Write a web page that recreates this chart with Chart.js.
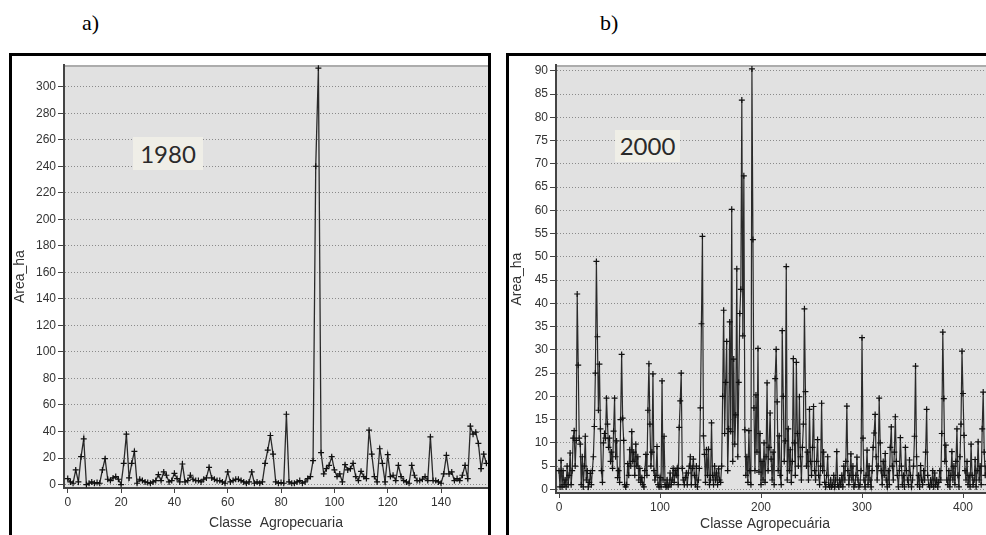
<!DOCTYPE html>
<html><head><meta charset="utf-8">
<script src="https://cdn.jsdelivr.net/npm/chart.js@4/dist/chart.umd.min.js"></script>
<style>
html,body{margin:0;padding:0;background:#fff;}
body{width:986px;height:535px;overflow:hidden;position:relative;}
.panel{position:absolute;border:3px solid #000;overflow:hidden;background:#fff;}
#pa{left:9px;top:53px;width:476px;height:490px;}
#pb{left:506px;top:53px;width:530px;height:490px;}
canvas{position:absolute;left:0;top:0;}
.lbl{position:absolute;font-family:"Liberation Serif",serif;font-size:22px;color:#000;line-height:26px;}
.year{position:absolute;background:#efeee7;font-family:Lato,sans-serif;font-size:24px;color:#2a2a2a;text-align:center;}
</style></head>
<body>
<div class="lbl" style="left:82px;top:10px">a)</div>
<div class="lbl" style="left:600px;top:10px">b)</div>
<div class="panel" id="pa"><canvas id="ca" width="476" height="479"></canvas></div>
<div class="panel" id="pb"><canvas id="cb" width="515" height="479"></canvas></div>
<div class="year" style="left:133px;top:137px;width:70px;height:33px;line-height:33px">1980</div>
<div class="year" style="left:615px;top:130px;width:65px;height:32px;line-height:32px">2000</div>
<script>
// ---------- data: panel a (1980) ----------
const areaA1980 = [
 4.5,2,1,11,2,21,34.5,0,1,2,
 1,1.5,1,11,19.5,4,3,5,6,4,
 0,16,38,5,16,25,1,4,3,2,
 1.5,1,2,3,7.5,3,9.5,7,2,3,
 8.5,4.5,2,15.5,2,3,7,4,3,3,
 2,4,5,13,5,4,3,3,2,1,
 9.5,2,3,4,4,3,2,1,2,9.5,
 1,2,1,2,16,26,37,23,2,1,
 1.5,1,53,2,1,1,2,3,1,2,
 4.5,6,18,240,314,24,8,12,14.5,21,
 11,6,8,2,15,11,12,16,6,3,
 10,6,4.5,41,23,6,2,27,16,2,
 22.5,6,7,3,14.5,6,3,2,1,14.5,
 7,3,3,4,6,3,36,3,3,2,
 1,8,22,8,9.5,3,4.5,3,7,14.5,
 4.5,44,38,39.5,31,12,23,16
];
// ---------- data: panel b (2000) ----------
const areaB2000 = [
 4,0.5,6.2,0.5,4,1,2,0.5,5,1,
 3,7.8,1,4,11,12.6,5,10.5,42,26.7,
 11,9.7,1,7,0.5,5,11.4,2,4,0.5,
 1.5,3.4,1,4,7,13.5,25,49,32.8,17,
 26.9,13,4,1.5,10,12,11,19.6,14,9,
 11,6,8,4.5,12.5,19.6,7,10.4,2.5,4,
 1.5,15,29,15.3,10.5,1,0.5,1,5.5,3,
 8.5,5,12.4,6,8,3,9.7,5,7,2,
 4.5,1.5,2.5,1,0.5,4,7.5,3,17,27,
 14,5,8,24.8,4,2,3,9.2,1,0.5,
 2.5,0.5,23.3,2,11.4,1,0.5,2,0.5,1,
 3.5,1,2,4.5,1.5,4,3,4.5,1,13.3,
 19,25,4.5,2,1,2.5,3.5,1,3.5,5,
 7,1,4.5,6.5,3,1,5,0.5,2,4.5,
 17.5,35.6,54.4,11.5,7.5,1.5,8.5,3,8.6,1,
 2,14.3,3,1,5,2,3.5,1,4.4,2,
 1.5,5,20,38.5,12,23,31.8,4,13,36,
 12.4,60.2,6,28,9.7,16,47.4,7,23,37.8,
 43,83.7,33,67.4,12.8,3,7,1.5,12.6,4,
 1,90.4,53.7,17.5,4,20.3,8,30.3,3.7,12,
 1,6,2,10,1.5,7,22.9,4,9,16.4,
 6.5,2,8,1,23.8,30.1,18.8,4,11.5,3,
 1,34.1,20,6,10.4,47.9,2,13,4,8.5,
 1.5,6,28.1,10,3,27.3,12,5,19.9,7,
 2,9,14,38.8,21,5,8,2,17.2,6,
 3,9,17.8,4,2,6,10.7,3,1,5,
 18.5,4,8,1.5,0.5,3,7,1,0.5,2,
 0.5,1,3,0.5,2,8.1,1,0.5,2,1,
 3,0.5,5,2,6,17.9,4,1,3,7.6,
 2,5,0.5,1,3,6.9,2,0.5,1,4,
 32.6,11,2,0.5,3,8.4,1,5,2,0.5,
 4,9,12.1,16.1,7,2,5,19.6,10,4,
 1,6,3,7.7,2,0.5,4,1,9,13.4,
 5,2,8,15.6,6,3,0.5,4,11.1,5,
 1,3,0.5,9,4,2,1,6.3,3,0.5,
 2,5,11.4,26.5,7,1,3,0.5,5.1,2,
 1,4,2,8,17.2,3,1,0.5,2,1,
 4,0.5,3.5,1,2,0.5,1.5,4,2,12,
 33.8,19.5,6,9.5,2,1,4,0.5,3,8.1,
 2,5,1,6,13,3,0.5,7,14,29.7,
 20.6,11.6,4,2,6,1,3,0.5,9.7,3,
 1,2,6.4,0.5,4,10.2,2,5,1,13,
 20.9,8,3,5,1,6
];
// class ids (categories) are the positions 0..n-1
const classA = areaA1980.map((_, i) => i);
const classB = areaB2000.map((_, i) => i);
// tick labels
const yTicksA = [0,20,40,60,80,100,120,140,160,180,200,220,240,260,280,300];
const xTicksA = [0,20,40,60,80,100,120,140];
const yTicksB = [0,5,10,15,20,25,30,35,40,45,50,55,60,65,70,75,80,85,90];
const xTicksB = [0,100,200,300,400];

const plotBg = {
  id: 'plotBg',
  beforeDraw(chart, args, o) {
    const {ctx, chartArea: a} = chart;
    ctx.save();
    ctx.fillStyle = o.color;
    ctx.fillRect(a.left, a.top, a.right - a.left, a.bottom - a.top);
    ctx.strokeStyle = o.topColor;
    ctx.lineWidth = 1.5;
    ctx.beginPath();
    ctx.moveTo(a.left, a.top + 0.75);
    ctx.lineTo(a.right, a.top + 0.75);
    ctx.stroke();
    ctx.restore();
  }
};
const freeText = {
  id: 'freeText',
  afterDraw(chart, args, o) {
    if (!o.items) return;
    const ctx = chart.ctx;
    ctx.save();
    for (const it of o.items) {
      ctx.font = it.font;
      ctx.fillStyle = it.color;
      ctx.textAlign = 'center';
      ctx.textBaseline = 'middle';
      ctx.fillText(it.text, it.x, it.y);
    }
    ctx.restore();
  }
};

const tickFont = {family: "'Liberation Sans', Arial, sans-serif", size: 12};
const titleFont = {family: "'Liberation Sans', Arial, sans-serif", size: 14};

function makeChart(id, cls, vals, cfg) {
  return new Chart(document.getElementById(id), {
    type: 'line',
    data: {
      datasets: [{
        data: vals.map((v, i) => ({x: cls[i], y: v})),
        borderColor: '#2a2a2a',
        borderWidth: cfg.lineWidth,
        pointStyle: 'cross',
        pointRadius: 3,
        pointBorderColor: '#111',
        pointBorderWidth: 1.2,
        pointBackgroundColor: '#111',
        tension: 0,
        fill: false
      }]
    },
    options: {
      responsive: false,
      animation: false,
      events: [],
      layout: {autoPadding: false, padding: {top: cfg.padTop, left: 0, right: 0, bottom: 0}},
      plugins: {
        legend: {display: false},
        tooltip: {enabled: false},
        plotBg: {color: '#e1e1e1', topColor: '#9a9a9a'},
        freeText: {items: cfg.freeItems || []}
      },
      scales: {
        x: {
          type: 'linear',
          min: cfg.xmin, max: cfg.xmax,
          afterBuildTicks: s => { s.ticks = cfg.xTicks.map(v => ({value: v})); },
          afterFit: s => { s.height = cfg.xH; },
          grid: {display: true, drawOnChartArea: false, drawTicks: true, tickLength: 5, tickColor: '#444', tickWidth: 1},
          border: {display: true, color: '#444', width: 2},
          ticks: {font: tickFont, color: '#333', padding: 2, maxRotation: 0, autoSkip: false},
          title: cfg.xTitle
            ? {display: true, text: cfg.xTitle, font: titleFont, color: '#333', padding: {top: 0, bottom: 3}}
            : {display: false}
        },
        y: {
          min: cfg.ymin, max: cfg.ymax,
          afterBuildTicks: s => { s.ticks = cfg.yTicks.map(v => ({value: v})); },
          afterFit: s => { s.width = cfg.yW; },
          grid: {color: '#8a8a8a', lineWidth: 1, tickLength: 6, tickColor: '#444', tickWidth: 1, tickBorderDash: []},
          border: {display: true, color: '#444', width: 2, dash: [1, 2]},
          ticks: {font: tickFont, color: '#333', padding: 2, autoSkip: false},
          title: {display: true, text: 'Area_ha', font: titleFont, color: '#333', padding: {top: 0, bottom: 0}}
        }
      }
    },
    plugins: [plotBg, freeText]
  });
}

makeChart('ca', classA, areaA1980, {
  lineWidth: 1.3, padTop: 7, xmin: -1.4, xmax: 157.6, ymin: -2.6, ymax: 316.2,
  xTicks: xTicksA, yTicks: yTicksA, xH: 47, yW: 52, xTitle: 'Classe  Agropecuaria'
});
makeChart('cb', classB, areaB2000, {
  lineWidth: 1.2, padTop: 1, xmin: -3, xmax: 460.4, ymin: -0.8, ymax: 91.2,
  xTicks: xTicksB, yTicks: yTicksB, xH: 42, yW: 47, xTitle: null,
  freeItems: [{text: 'Classe Agropecuária', x: 256, y: 468, font: "14px 'Liberation Sans', Arial, sans-serif", color: '#333'}]
});
</script>
</body></html>
